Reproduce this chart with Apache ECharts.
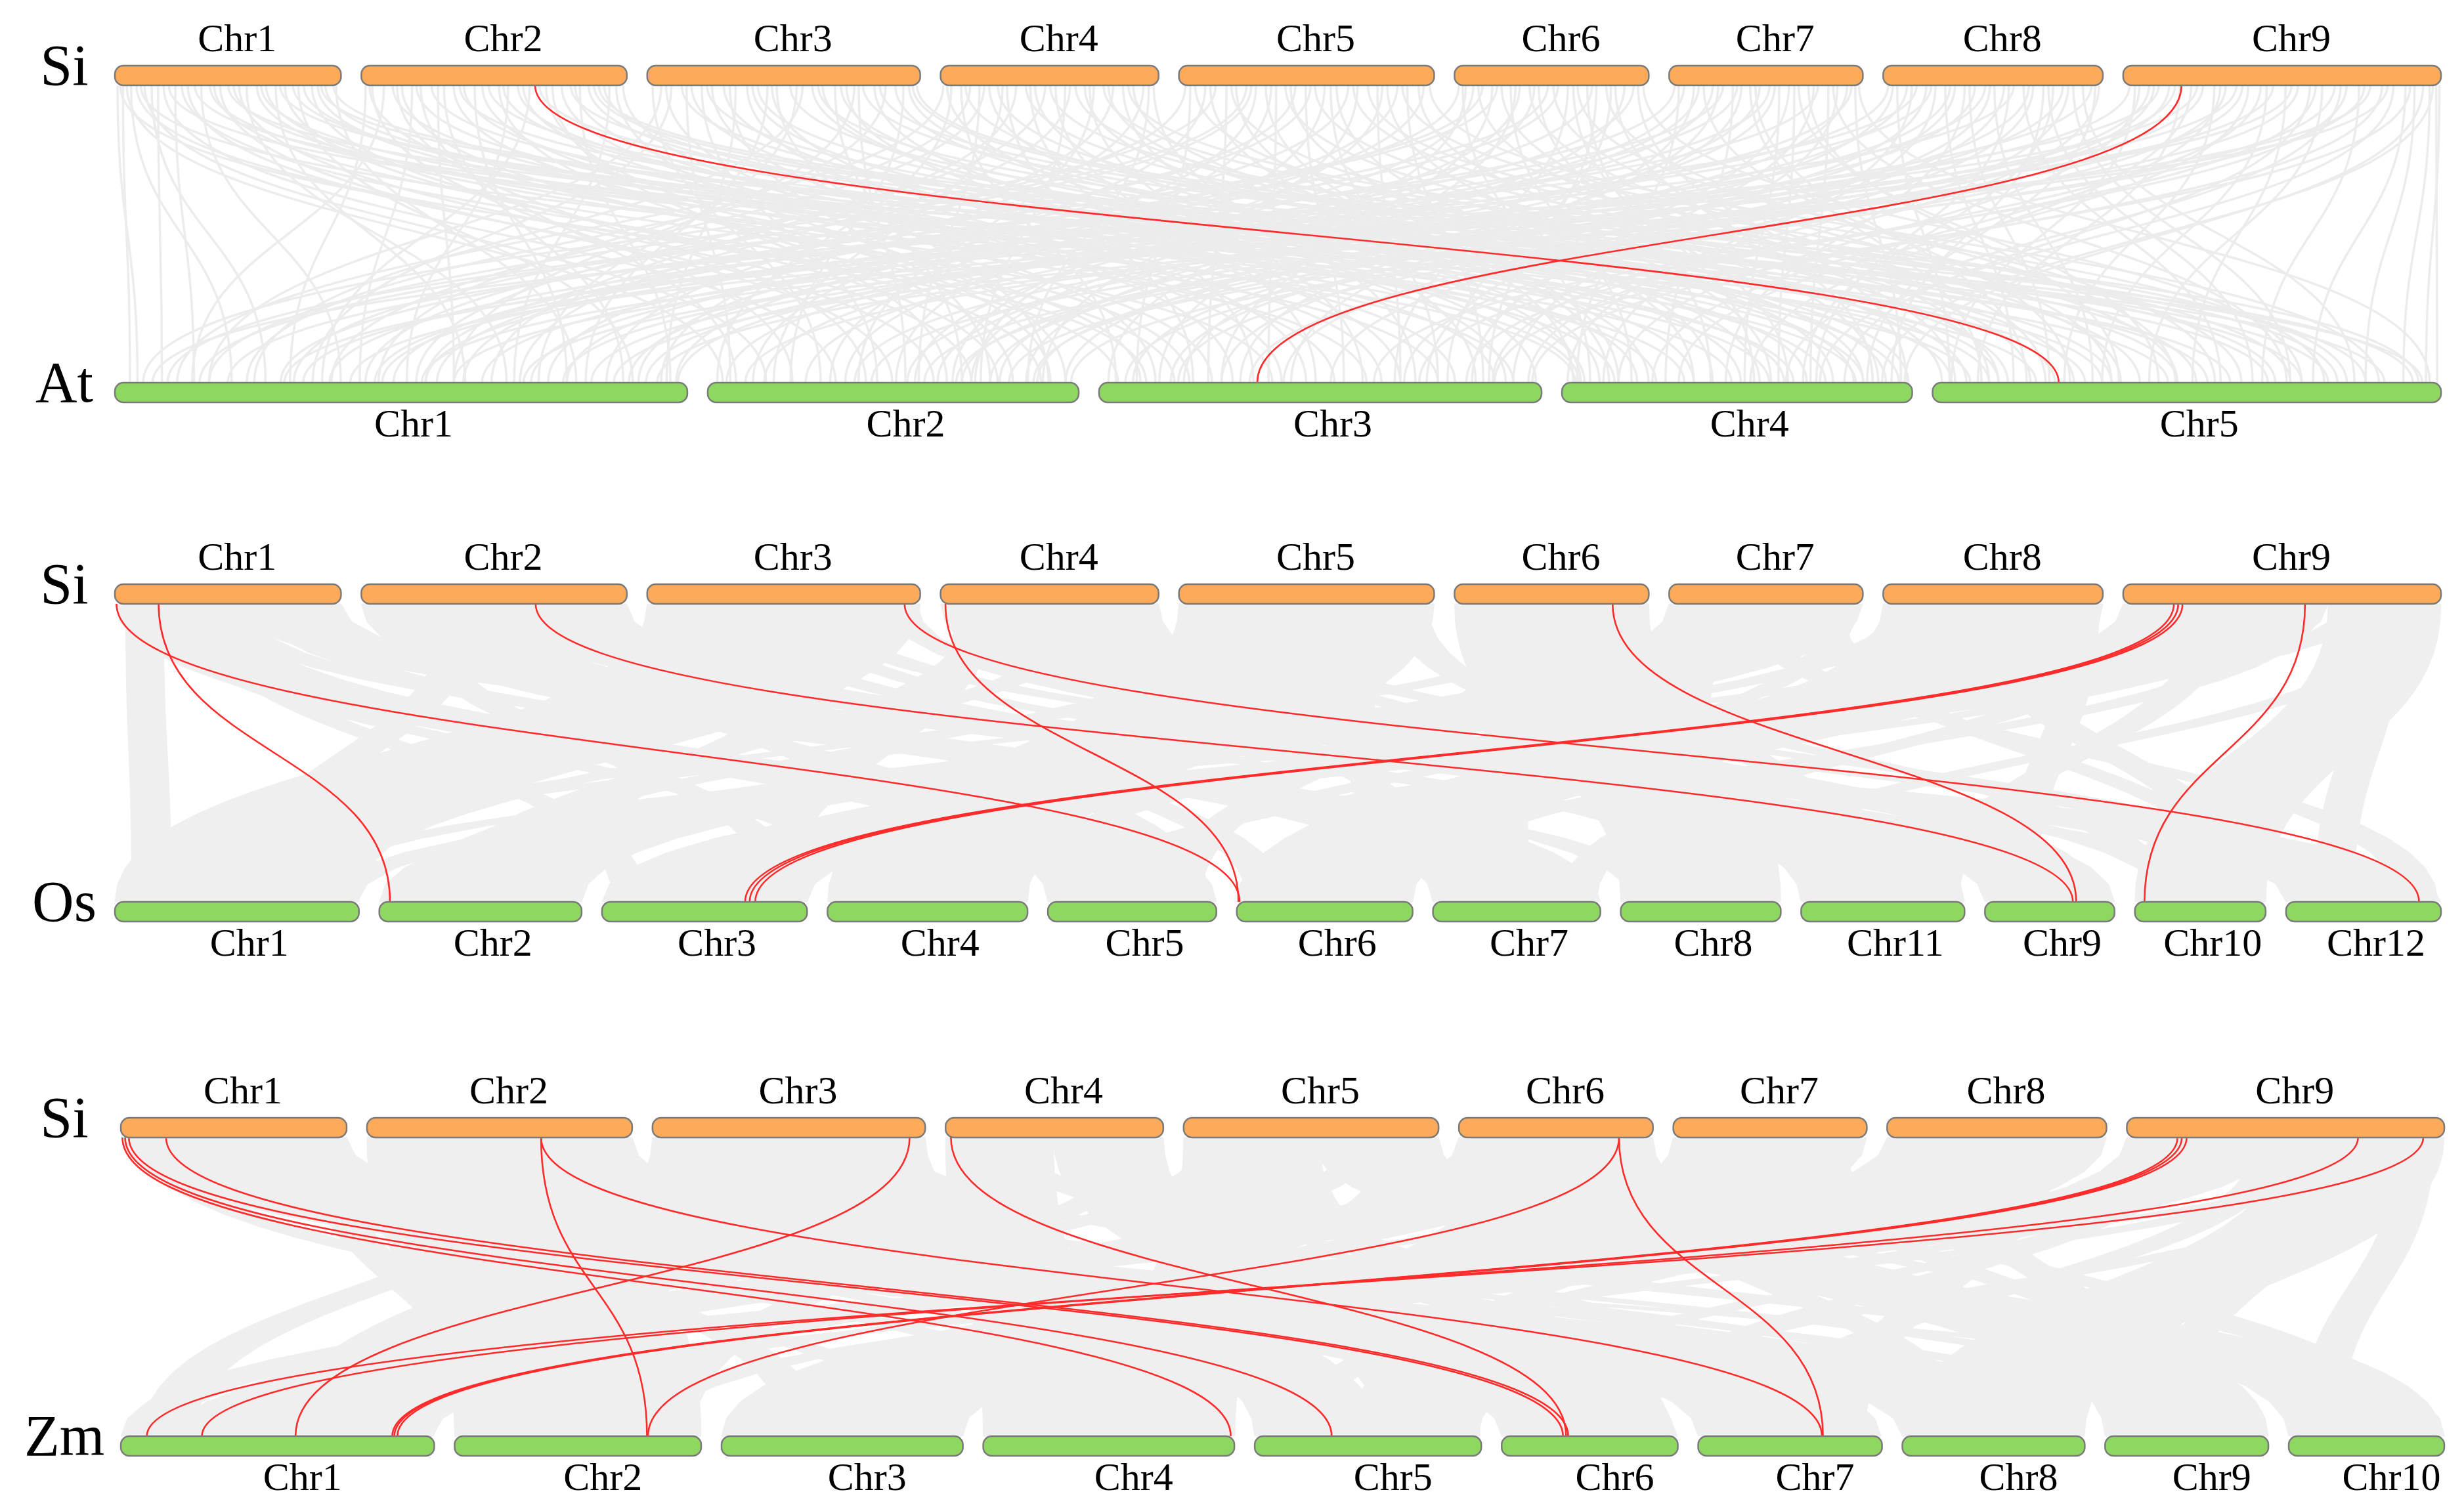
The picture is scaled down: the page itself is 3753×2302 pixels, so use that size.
<!DOCTYPE html>
<html>
<head>
<meta charset="utf-8">
<script src="https://cdn.jsdelivr.net/npm/echarts@6/dist/echarts.min.js"></script>
<style>
html, body { margin: 0; padding: 0; background: #fff; }
#main { width: 3753px; height: 2302px; }
</style>
</head>
<body>
<div id="main"></div>
<script>
// chromosome names and lengths (Mb)
const siChrs = ['Chr1', 'Chr2', 'Chr3', 'Chr4', 'Chr5', 'Chr6', 'Chr7', 'Chr8', 'Chr9'];
const siLens = [41.9, 49.2, 50.6, 40.4, 47.3, 36.0, 35.9, 40.7, 58.9];
const atChrs = ['Chr1', 'Chr2', 'Chr3', 'Chr4', 'Chr5'];
const atLens = [30.4, 19.7, 23.5, 18.6, 27.0];
const osChrs = ['Chr1', 'Chr2', 'Chr3', 'Chr4', 'Chr5', 'Chr6', 'Chr7', 'Chr8', 'Chr11', 'Chr9', 'Chr10', 'Chr12'];
const osLens = [43.3, 35.9, 36.4, 35.5, 29.9, 31.2, 29.7, 28.4, 29.0, 23.0, 23.2, 27.5];
const zmChrs = ['Chr1', 'Chr2', 'Chr3', 'Chr4', 'Chr5', 'Chr6', 'Chr7', 'Chr8', 'Chr9', 'Chr10'];
const zmLens = [301.4, 237.1, 232.1, 241.5, 217.9, 169.4, 176.8, 175.4, 157.0, 149.6];

// collinear gene pairs Si -> At  [siChr, siPos, atChr, atPos]
const siAtLinks = [
  [1,1.5,1,0.8],[1,3.0,1,6.2],[1,5.5,2,3.1],[1,8.0,1,2.5],[1,12.4,3,4.0],[1,16.0,1,12.0],[1,19.5,2,9.8],
  [1,22.0,4,6.5],[1,26.3,3,14.2],[1,29.8,1,18.6],[1,33.0,5,8.1],[1,36.5,2,15.4],[1,39.0,4,12.3],[1,41.0,1,24.5],
  [1,0.5,1,1.2],[1,2.2,2,0.8],[1,4.0,3,1.0],[1,6.8,1,8.0],[1,10.0,5,2.0],[1,13.5,2,12.0],[1,17.6,4,9.0],
  [1,21.0,5,12.5],[1,24.4,1,20.8],[1,28.0,3,18.0],[1,31.5,2,17.7],[1,35.0,4,15.6],[1,38.2,5,24.0],
  [1,1.0,3,2.5],[1,4.8,4,0.7],[1,9.0,2,6.8],[1,11.2,1,4.2],[1,14.8,5,5.5],[1,18.4,3,9.2],[1,23.0,2,14.0],
  [1,27.1,4,11.0],[1,30.6,5,15.8],[1,34.0,1,27.5],[1,37.6,3,22.0],[1,40.5,5,26.0],
  [2,0.8,1,9.3],[2,4.2,1,4.1],[2,7.5,3,2.2],[2,11.0,2,1.5],[2,15.3,1,27.0],[2,19.0,4,2.8],[2,23.6,5,14.6],
  [2,27.2,1,15.5],[2,30.0,3,18.9],[2,35.4,2,12.7],[2,38.8,5,21.0],[2,42.1,4,16.0],[2,46.0,1,21.2],[2,48.5,3,9.7],
  [2,2.0,2,4.5],[2,5.8,4,0.9],[2,9.4,1,13.0],[2,13.0,5,3.0],[2,17.1,3,6.0],[2,21.0,1,24.0],[2,25.5,2,16.2],
  [2,29.0,4,11.8],[2,33.0,5,17.8],[2,37.1,3,15.0],[2,40.5,1,29.5],[2,44.0,5,25.5],[2,47.2,2,19.0],
  [2,1.5,3,4.8],[2,6.6,2,8.4],[2,10.2,4,5.0],[2,14.2,1,18.0],[2,18.2,5,9.0],[2,22.4,3,12.5],[2,26.3,4,14.0],
  [2,31.2,1,11.0],[2,34.2,2,18.2],[2,39.6,3,21.0],[2,43.1,5,19.6],[2,45.0,4,17.9],
  [3,1.0,2,6.0],[3,4.5,1,10.5],[3,8.2,4,1.2],[3,12.0,3,7.1],[3,16.4,1,29.3],[3,20.5,5,3.5],[3,24.0,2,18.1],
  [3,28.8,1,7.4],[3,32.5,4,9.5],[3,36.9,3,21.6],[3,40.0,5,18.2],[3,44.2,1,14.0],[3,47.5,2,4.4],[3,50.0,5,25.8],
  [3,2.6,1,5.0],[3,6.4,5,1.0],[3,10.1,2,9.0],[3,14.2,4,4.0],[3,18.5,3,11.0],[3,22.3,1,25.0],[3,26.5,5,9.5],
  [3,30.6,4,13.0],[3,34.8,2,13.5],[3,38.4,1,18.0],[3,42.1,3,23.2],[3,46.0,4,17.2],[3,49.2,5,21.5],
  [3,3.5,3,3.0],[3,7.3,2,1.2],[3,11.1,5,6.5],[3,15.3,2,15.0],[3,19.5,4,7.0],[3,23.1,3,16.0],[3,27.7,1,22.5],
  [3,31.7,5,13.0],[3,35.9,4,15.5],[3,39.2,2,10.5],[3,43.1,5,23.0],[3,48.5,4,18.4],
  [4,0.5,1,3.3],[4,3.8,3,0.9],[4,7.2,2,11.2],[4,10.6,5,1.8],[4,14.0,1,20.0],[4,17.5,4,4.6],
  [4,21.3,3,11.5],[4,25.0,5,11.0],[4,28.4,2,8.0],[4,32.0,1,26.1],[4,35.7,4,14.4],[4,39.5,3,16.8],
  [4,2.0,2,0.5],[4,5.5,1,7.0],[4,9.0,4,2.0],[4,12.3,3,5.0],[4,15.8,5,7.5],[4,19.4,1,16.0],
  [4,23.1,2,14.5],[4,26.7,4,10.5],[4,30.2,5,19.0],[4,33.8,3,20.0],[4,37.6,1,29.0],
  [4,1.2,4,1.0],[4,4.6,5,4.0],[4,8.1,1,11.5],[4,11.5,2,3.5],[4,16.6,3,8.2],[4,20.3,5,14.0],
  [4,24.0,1,21.5],[4,27.6,3,14.0],[4,31.1,4,16.0],[4,34.8,5,22.0],[4,38.6,2,17.0],
  [5,1.2,1,13.3],[5,4.9,2,2.4],[5,8.8,3,5.8],[5,12.5,1,5.0],[5,16.1,4,0.6],[5,19.7,5,5.2],[5,23.5,3,13.0],
  [5,27.0,2,14.2],[5,31.4,1,23.0],[5,35.0,5,16.4],[5,38.6,4,11.1],[5,42.3,3,20.4],[5,46.5,5,23.7],
  [5,3.0,5,0.5],[5,6.8,1,1.5],[5,10.6,4,3.0],[5,14.3,2,6.5],[5,18.0,3,9.0],[5,21.6,1,18.5],[5,25.2,5,10.0],
  [5,29.2,4,7.0],[5,33.1,2,17.8],[5,36.8,3,16.0],[5,40.5,1,27.8],[5,44.4,4,16.8],
  [5,2.1,3,2.0],[5,5.8,4,2.5],[5,9.7,5,3.5],[5,13.4,1,9.5],[5,17.1,2,10.0],[5,20.7,4,8.0],[5,24.4,1,16.5],
  [5,28.1,3,18.0],[5,32.3,5,13.0],[5,37.7,2,13.0],[5,41.4,5,20.8],[5,45.4,1,29.8],
  [6,0.8,1,17.1],[6,3.5,2,7.3],[6,7.0,3,3.2],[6,10.4,4,3.7],[6,13.9,5,6.0],[6,17.3,1,8.8],
  [6,21.0,3,15.7],[6,24.6,4,7.9],[6,28.1,5,12.9],[6,31.5,2,16.9],[6,35.0,5,19.6],
  [6,2.1,3,0.5],[6,5.2,1,4.5],[6,8.7,5,3.0],[6,12.1,2,11.0],[6,15.6,4,12.0],[6,19.2,1,14.8],
  [6,22.8,5,15.0],[6,26.3,3,20.7],[6,29.8,4,16.5],[6,33.2,1,27.3],
  [6,1.5,4,1.5],[6,4.4,5,1.2],[6,7.9,1,2.8],[6,11.3,3,6.5],[6,14.8,2,14.0],[6,18.3,5,9.5],
  [6,22.0,4,10.2],[6,25.5,1,24.0],[6,29.0,3,18.5],[6,34.0,4,18.3],
  [7,1.0,1,11.4],[7,4.6,3,10.2],[7,8.1,2,5.2],[7,11.8,4,5.5],[7,15.0,5,2.6],[7,18.6,1,22.1],
  [7,22.2,3,17.4],[7,25.8,5,9.9],[7,29.5,4,13.2],[7,33.0,2,19.0],[7,35.2,5,26.4],
  [7,2.8,2,1.0],[7,6.4,5,7.3],[7,10.0,1,6.0],[7,13.4,3,4.5],[7,16.8,2,12.2],[7,20.4,4,9.7],
  [7,24.0,5,12.0],[7,27.6,1,13.8],[7,31.2,3,22.0],[7,34.5,4,18.0],
  [7,1.8,4,0.8],[7,5.5,2,3.0],[7,9.1,3,7.5],[7,12.6,1,16.5],[7,16.0,5,5.0],[7,19.6,2,15.5],
  [7,23.2,4,11.5],[7,26.8,3,19.8],[7,30.4,5,18.8],[7,33.8,1,29.9],
  [8,0.9,1,19.5],[8,4.4,2,10.6],[8,8.0,3,6.5],[8,11.5,5,4.3],[8,15.1,4,8.7],[8,18.9,1,28.2],
  [8,22.4,3,12.3],[8,26.0,5,15.3],[8,29.7,4,17.5],[8,33.3,2,13.5],[8,37.0,5,22.4],[8,40.0,3,22.8],
  [8,2.6,5,0.9],[8,6.2,1,2.0],[8,9.7,4,0.3],[8,13.3,3,3.8],[8,17.0,2,15.0],[8,20.6,5,8.5],
  [8,24.2,1,10.0],[8,27.8,3,16.2],[8,31.5,4,12.8],[8,35.2,5,19.0],[8,38.6,1,23.8],
  [8,1.8,3,1.8],[8,5.3,4,2.2],[8,8.9,1,14.2],[8,12.4,2,7.8],[8,16.0,5,6.2],[8,19.8,3,9.8],
  [8,23.3,4,13.5],[8,27.0,2,17.5],[8,30.6,5,17.0],[8,34.3,3,20.9],[8,39.3,4,16.2],
  [9,1.2,1,25.3],[9,4.8,2,17.3],[9,8.5,3,1.4],[9,12.6,4,10.0],[9,16.9,5,7.0],[9,21.0,1,16.3],[9,25.5,3,19.5],
  [9,30.1,5,13.8],[9,34.6,4,15.0],[9,39.2,2,19.3],[9,43.7,5,17.5],[9,48.0,3,23.0],[9,52.3,5,20.2],
  [9,55.6,4,18.2],[9,58.0,5,26.8],
  [9,3.0,4,3.0],[9,6.6,1,9.0],[9,10.5,5,2.4],[9,14.8,2,8.7],[9,19.0,3,8.0],[9,23.2,4,6.2],[9,27.8,1,21.7],
  [9,32.4,2,11.5],[9,36.9,5,11.5],[9,41.4,3,14.6],[9,45.8,1,26.5],[9,50.1,4,13.7],[9,54.0,5,23.0],
  [9,56.8,5,25.0],[9,58.6,5,26.2],
  [9,2.2,5,1.0],[9,5.7,3,4.2],[9,9.6,2,2.0],[9,13.7,1,12.5],[9,18.0,4,4.8],[9,22.1,2,13.2],[9,26.6,5,9.0],
  [9,31.2,1,18.0],[9,35.7,3,17.0],[9,40.3,4,11.9],[9,44.7,2,16.0],[9,49.0,1,28.8],[9,53.2,3,21.0],[9,57.4,4,17.0]
];
const siAtRed = [[2,32.2,5,6.7],[9,10.8,3,8.4]];

// collinear blocks [siChr, siStart, siEnd, otherChr, start, end]
const siOsBlocks = [
  [1,0,10.5,5,0,14.5],[1,10.5,22.0,5,14.5,29.9],[1,22.0,32.0,12,0,13.5],[1,32.0,41.9,12,13.5,27.5],
  [2,0,13.0,7,0,15.0],[2,13.0,26.0,7,15.0,29.7],[2,26.0,37.5,9,0,11.5],[2,37.5,49.2,9,11.5,23.0],
  [3,0,16.0,1,0,14.0],[3,16.0,33.0,1,14.0,29.0],[3,33.0,50.6,1,29.0,43.3],
  [4,0,19.5,11,0,14.0],[4,19.5,40.4,11,14.0,29.0],
  [5,0,23.0,4,0,17.5],[5,23.0,47.3,4,17.5,35.5],
  [6,0,17.5,8,0,14.0],[6,17.5,36.0,8,14.0,28.4],
  [7,0,17.5,2,0,17.5],[7,17.5,35.9,2,17.5,35.9],
  [8,0,20.0,6,0,15.0],[8,20.0,40.7,6,15.0,31.2],
  [9,0,18.5,3,0,18.0],[9,18.5,38.0,3,18.0,36.4],[9,38.0,48.5,10,0,11.5],[9,48.5,58.9,10,11.5,23.2],
  [1,2,9,1,3,10],[1,14,20,3,2,8],[1,26,33,7,20,27],[1,35,41,10,15,22],
  [2,3,10,12,16,24],[2,16,23,1,20,28],[2,30,36,5,4,11],[2,41,48,4,25,32],
  [3,2,9,6,2,9],[3,12,19,8,20,27],[3,24,30,11,5,12],[3,38,45,2,26,33],
  [4,3,10,3,26,33],[4,14,20,12,3,10],[4,26,33,1,34,41],[4,35,40,7,4,10],
  [5,2,9,9,14,21],[5,13,20,2,4,11],[5,28,35,6,22,29],[5,39,46,11,20,27],
  [6,2,8,10,3,9],[6,12,19,5,20,27],[6,24,31,1,6,13],[6,32,36,4,2,7],
  [7,2,9,8,3,10],[7,12,18,12,20,27],[7,22,29,3,10,17],[7,30,35,6,8,14],
  [8,2,9,2,22,29],[8,14,21,10,16,23],[8,25,32,4,6,13],[8,34,40,9,3,9],
  [9,3,10,7,22,29],[9,14,21,11,22,28],[9,25,32,5,2,9],[9,40,47,1,36,43],[9,52,58,8,10,17],
  [1,5,12,4,5,12],[1,17,24,8,2,9],[2,6,13,3,30,36],[2,20,27,11,2,9],[3,5,12,5,22,29],
  [3,28,35,10,5,12],[3,44,50,9,16,23],[4,6,13,2,10,17],[4,28,35,8,22,28],[5,6,13,12,3,10],
  [5,33,40,1,10,17],[6,5,12,7,10,17],[6,26,33,11,10,17],[7,5,12,4,28,35],[7,25,32,10,18,23],
  [8,5,12,5,10,17],[8,28,35,1,24,31],[9,8,15,2,6,13],[9,30,37,6,24,31],[9,45,52,12,5,12]
];
const siOsRed = [
  [1,0.3,6,0.5],[1,8.1,2,1.9],[2,32.3,9,15.6],[3,47.7,12,23.6],[4,0.9,6,0.3],
  [6,29.3,9,16.2],[9,9.4,3,25.4],[9,10.2,3,26.2],[9,11.0,3,27.2],[9,33.7,10,1.7]
];

const siZmBlocks = [
  [1,0,20.5,6,0,81],[1,20.5,41.9,6,81,169],[1,0,20.5,8,0,86],[1,20.5,41.9,8,86,175],
  [2,0,24.0,2,0,116],[2,24.0,49.2,2,116,237],[2,0,24.0,7,0,87],[2,24.0,49.2,7,87,176],
  [3,0,25.0,1,150,226],[3,25.0,50.6,1,226,301],[3,0,25.0,5,0,61],[3,25.0,50.6,5,61,120],
  [4,0,20.0,4,0,119],[4,20.0,40.4,5,120,217],
  [5,0,23.5,4,119,242],[5,23.5,47.3,10,0,150],
  [6,0,18.0,9,0,79],[6,18.0,36.0,9,79,157],[6,0,36.0,1,0,50],
  [7,0,17.5,3,0,56],[7,17.5,35.9,3,56,111],
  [8,0,20.0,3,111,171],[8,20.0,40.7,3,171,232],[8,0,40.7,1,50,150],
  [9,0,29.0,3,0,110],[9,29.0,58.9,8,0,175],
  [1,3,10,3,180,215],[1,25,32,10,100,140],[1,34,41,2,20,60],
  [2,4,11,4,200,240],[2,15,22,9,20,60],[2,36,44,1,20,70],
  [3,3,10,6,120,160],[3,15,22,8,130,170],[3,40,47,10,60,100],
  [4,4,11,2,190,230],[4,24,31,7,10,50],[4,33,40,1,250,295],
  [5,3,10,1,80,130],[5,18,25,6,20,60],[5,38,45,3,150,190],
  [6,3,9,5,150,190],[6,20,27,2,60,100],[6,30,35,10,110,148],
  [7,4,11,1,200,245],[7,20,27,9,100,140],[7,28,35,4,40,80],
  [8,3,10,5,20,60],[8,25,32,7,120,160],[8,34,40,2,150,190],
  [9,5,12,6,100,140],[9,18,25,4,60,100],[9,35,42,9,30,70],[9,50,57,10,10,50],[9,44,50,1,260,300],
  [1,6,13,7,130,170],[1,28,35,4,100,140],[2,8,15,3,60,100],[2,28,35,8,120,160],[3,8,15,9,110,150],
  [3,30,37,2,100,140],[4,8,15,10,20,60],[4,28,35,6,130,165],[5,8,15,7,60,100],[5,30,37,1,170,220],
  [6,8,15,4,150,190],[6,22,29,8,30,70],[7,6,13,5,90,130],[7,24,31,10,80,120],[8,6,13,9,60,100],
  [8,22,29,2,40,80],[9,10,17,5,180,215],[9,24,31,7,40,80],[9,40,47,3,190,230],[9,52,58,6,40,80]
];
const siZmRed = [
  [1,0.3,4,238],[1,0.8,5,74],[1,1.5,6,59],[1,8.4,6,64],[4,1.0,6,62],
  [2,32.3,7,119],[2,32.3,2,185],[6,29.7,2,186],[6,29.7,7,120],[3,47.7,1,168],
  [9,9.4,1,261],[9,10.2,1,263],[9,11.1,1,266],[9,42.9,1,78],[9,55.0,1,25]
];

const BAR_H = 30;
const GAP = 0.00875;
const FONT = '"Liberation Serif", "Times New Roman", serif';

function makeTrack(names, lens, color) {
  const total = lens.reduce((a, b) => a + b, 0);
  const s = (1 - (lens.length - 1) * GAP) / total;
  const starts = [];
  let off = 0;
  lens.forEach(l => { starts.push(off); off += l * s + GAP; });
  return {
    names, lens, color,
    pos: (num, p) => {
      const i = names.indexOf('Chr' + num);
      return starts[i] + p * s;
    },
    bars: lens.map((l, i) => [starts[i], starts[i] + l * s])
  };
}

const siTrack = makeTrack(siChrs, siLens, '#fdab5a');
const panels = [
  { top: siTrack, bottom: makeTrack(atChrs, atLens, '#8ed862'), lines: siAtLinks, blocks: null, red: siAtRed,
    grid: { left: 175, right: 35, top: 115, height: 483 }, species: ['Si', 'At'], shift: [14, 19] },
  { top: siTrack, bottom: makeTrack(osChrs, osLens, '#8ed862'), lines: null, blocks: siOsBlocks, red: siOsRed,
    grid: { left: 175, right: 35, top: 905, height: 484 }, species: ['Si', 'Os'], shift: [14, 19] },
  { top: siTrack, bottom: makeTrack(zmChrs, zmLens, '#8ed862'), lines: null, blocks: siZmBlocks, red: siZmRed,
    grid: { left: 184, right: 30, top: 1718, height: 485 }, species: ['Si', 'Zm'], shift: [14, 38] }
];

function ends(api, a, b) {
  const p = api.coord([a, 0]);
  const q = api.coord([b, 1]);
  return [p[0], p[1] + BAR_H / 2, q[0], q[1] - BAR_H / 2];
}

function curve(stroke, width) {
  return (params, api) => {
    const [x0, y0, x1, y1] = ends(api, api.value(0), api.value(1));
    const ym = (y0 + y1) / 2;
    return {
      type: 'bezierCurve',
      shape: { x1: x0, y1: y0, cpx1: x0, cpy1: ym, cpx2: x1, cpy2: ym, x2: x1, y2: y1 },
      style: { stroke: stroke, lineWidth: width, fill: 'none' }
    };
  };
}

function bez(ax, ay, bx, by, t) {
  const u = 1 - t;
  const ym = (ay + by) / 2;
  return [u * u * u * ax + 3 * u * u * t * ax + 3 * u * t * t * bx + t * t * t * bx,
          u * u * u * ay + 3 * u * u * t * ym + 3 * u * t * t * ym + t * t * t * by];
}

function ribbon(params, api) {
  const [a0, y0, b0, y1] = ends(api, api.value(0), api.value(2));
  const a1 = api.coord([api.value(1), 0])[0];
  const b1 = api.coord([api.value(3), 1])[0];
  const pts = [[a0, y0]];
  for (let k = 0; k <= 24; k++) pts.push(bez(a1, y0, b1, y1, k / 24));
  for (let k = 24; k >= 0; k--) pts.push(bez(a0, y0, b0, y1, k / 24));
  return { type: 'polygon', shape: { points: pts }, style: { fill: '#efefef', stroke: '#efefef', lineWidth: 1 } };
}

const grids = [], xAxes = [], yAxes = [], series = [], graphic = [];
panels.forEach((pn, gi) => {
  grids.push(pn.grid);
  xAxes.push({ gridIndex: gi, type: 'value', min: 0, max: 1, show: false });
  yAxes.push({ gridIndex: gi, type: 'value', min: 0, max: 1, inverse: true, show: false });
  const base = { type: 'custom', coordinateSystem: 'cartesian2d', xAxisIndex: gi, yAxisIndex: gi, silent: true, animation: false };

  if (pn.lines) {
    series.push(Object.assign({}, base, {
      z: 1, renderItem: curve('#ececec', 3.5),
      data: pn.lines.map(d => [pn.top.pos(d[0], d[1]), pn.bottom.pos(d[2], d[3])])
    }));
  }
  if (pn.blocks) {
    series.push(Object.assign({}, base, {
      z: 1, renderItem: ribbon,
      data: pn.blocks.map(d => [pn.top.pos(d[0], d[1]), pn.top.pos(d[0], d[2]),
                                pn.bottom.pos(d[3], d[4]), pn.bottom.pos(d[3], d[5])])
    }));
  }
  series.push(Object.assign({}, base, {
    z: 2, renderItem: curve('#ff2b2b', 2.6),
    data: pn.red.map(d => [pn.top.pos(d[0], d[1]), pn.bottom.pos(d[2], d[3])])
  }));

  [pn.top, pn.bottom].forEach((tr, row) => {
    series.push(Object.assign({}, base, {
      z: 3,
      data: tr.bars.map(b => [b[0], b[1], row]),
      renderItem: (params, api) => {
        const p0 = api.coord([api.value(0), api.value(2)]);
        const p1 = api.coord([api.value(1), api.value(2)]);
        return {
          type: 'group',
          children: [
            { type: 'rect',
              shape: { x: p0[0], y: p0[1] - BAR_H / 2, width: p1[0] - p0[0], height: BAR_H, r: 13 },
              style: { fill: tr.color, stroke: '#7a7a7a', lineWidth: 2.5 } },
            { type: 'text',
              style: { text: tr.names[params.dataIndex], x: (p0[0] + p1[0]) / 2 + pn.shift[row],
                       y: row === 0 ? p0[1] - 53 : p0[1] + 51, font: '60px ' + FONT, fill: '#000',
                       align: 'center', verticalAlign: 'middle' } }
          ]
        };
      }
    }));
  });

  const yTop = pn.grid.top, yBot = pn.grid.top + pn.grid.height;
  pn.species.forEach((sp, row) => {
    graphic.push({
      type: 'text', x: 98, y: (row === 0 ? yTop : yBot) - 9, silent: true,
      style: { text: sp, font: '88px ' + FONT, fill: '#000', align: 'center', verticalAlign: 'middle',
               textAlign: 'center', textVerticalAlign: 'middle' }
    });
  });
});

const chart = echarts.init(document.getElementById('main'));
chart.setOption({
  backgroundColor: '#fff',
  animation: false,
  grid: grids,
  xAxis: xAxes,
  yAxis: yAxes,
  graphic: graphic,
  series: series
});
</script>
</body>
</html>
